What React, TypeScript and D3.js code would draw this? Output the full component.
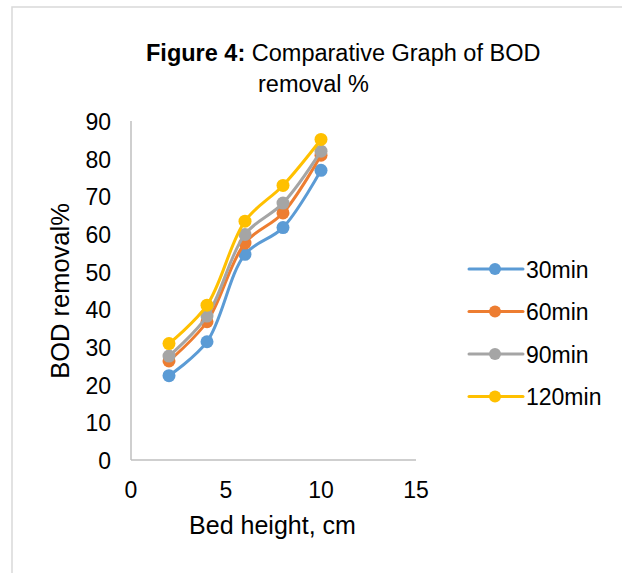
import React from "react";
import * as d3 from "d3";

const bedHeights = [2, 4, 6, 8, 10];
const seriesNames = ["30min", "60min", "90min", "120min"];
const bod30 = [22.4, 31.4, 54.6, 61.7, 76.9];
const bod60 = [26.3, 36.7, 57.6, 65.6, 80.9];
const bod90 = [27.6, 38.2, 59.9, 68.2, 82.0];
const bod120 = [30.9, 41.1, 63.4, 72.9, 85.1];
const seriesColors = ["#5B9BD5", "#ED7D31", "#A5A5A5", "#FFC000"];
const yTicks = [0, 10, 20, 30, 40, 50, 60, 70, 80, 90];
const xTicks = [0, 5, 10, 15];

const W = 622;
const H = 573;
const FONT = "'Liberation Sans', Arial, sans-serif";

export default function App() {
  const x = d3.scaleLinear().domain([0, 15]).range([131, 416]);
  const y = d3.scaleLinear().domain([0, 90]).range([460, 121]);
  const allSeries = [bod30, bod60, bod90, bod120];
  const line = d3
    .line<[number, number]>()
    .x((d) => x(d[0]))
    .y((d) => y(d[1]))
    .curve(d3.curveCatmullRom.alpha(0.5));

  const legendY0 = 269;
  const legendStep = 42.5;

  return (
    <svg
      width={W}
      height={H}
      style={{ position: "absolute", left: 0, top: 0, background: "#fff" }}
      fontFamily={FONT}
    >
      <rect x={0} y={0} width={W} height={H} fill="#fff" />
      <path d={`M12,${H} V7 H${W}`} fill="none" stroke="#D9D9D9" strokeWidth={1.5} />

      {/* Title */}
      <text x={146} y={61} fontSize={23.5} fill="#000">
        <tspan fontWeight="bold">Figure 4:</tspan>
        <tspan> Comparative Graph of BOD</tspan>
      </text>
      <text x={258} y={92} fontSize={23.5} fill="#000">
        removal %
      </text>

      {/* Axes */}
      <line x1={x(0)} x2={x(0)} y1={y(90)} y2={y(0)} stroke="#BFBFBF" strokeWidth={1.5} />
      <line x1={x(0)} x2={x(15)} y1={y(0)} y2={y(0)} stroke="#BFBFBF" strokeWidth={1.5} />

      {yTicks.map((t) => (
        <text key={"y" + t} x={111} y={y(t) + 9} fontSize={23} textAnchor="end" fill="#000">
          {t}
        </text>
      ))}
      {xTicks.map((t) => (
        <text key={"x" + t} x={x(t)} y={498} fontSize={23} textAnchor="middle" fill="#000">
          {t}
        </text>
      ))}

      <text x={272.5} y={534} fontSize={25} textAnchor="middle" fill="#000">
        Bed height, cm
      </text>
      <text
        transform={`translate(69,291) rotate(-90)`}
        fontSize={25.5}
        textAnchor="middle"
        fill="#000"
      >
        BOD removal%
      </text>

      {/* Series */}
      {allSeries.map((vals, i) => {
        const pts = bedHeights.map((b, j) => [b, vals[j]] as [number, number]);
        return (
          <g key={seriesNames[i]}>
            <path d={line(pts) || ""} fill="none" stroke={seriesColors[i]} strokeWidth={3} strokeLinejoin="round" />
            {pts.map((p, j) => (
              <circle key={j} cx={x(p[0])} cy={y(p[1])} r={6.5} fill={seriesColors[i]} />
            ))}
          </g>
        );
      })}

      {/* Legend */}
      {seriesNames.map((name, i) => {
        const ly = legendY0 + i * legendStep;
        return (
          <g key={"lg" + name}>
            <line x1={469} x2={523} y1={ly} y2={ly} stroke={seriesColors[i]} strokeWidth={3} strokeLinecap="round" />
            <circle cx={495} cy={ly} r={6} fill={seriesColors[i]} />
            <text x={526} y={ly + 8.5} fontSize={23} fill="#000">
              {name}
            </text>
          </g>
        );
      })}
    </svg>
  );
}
